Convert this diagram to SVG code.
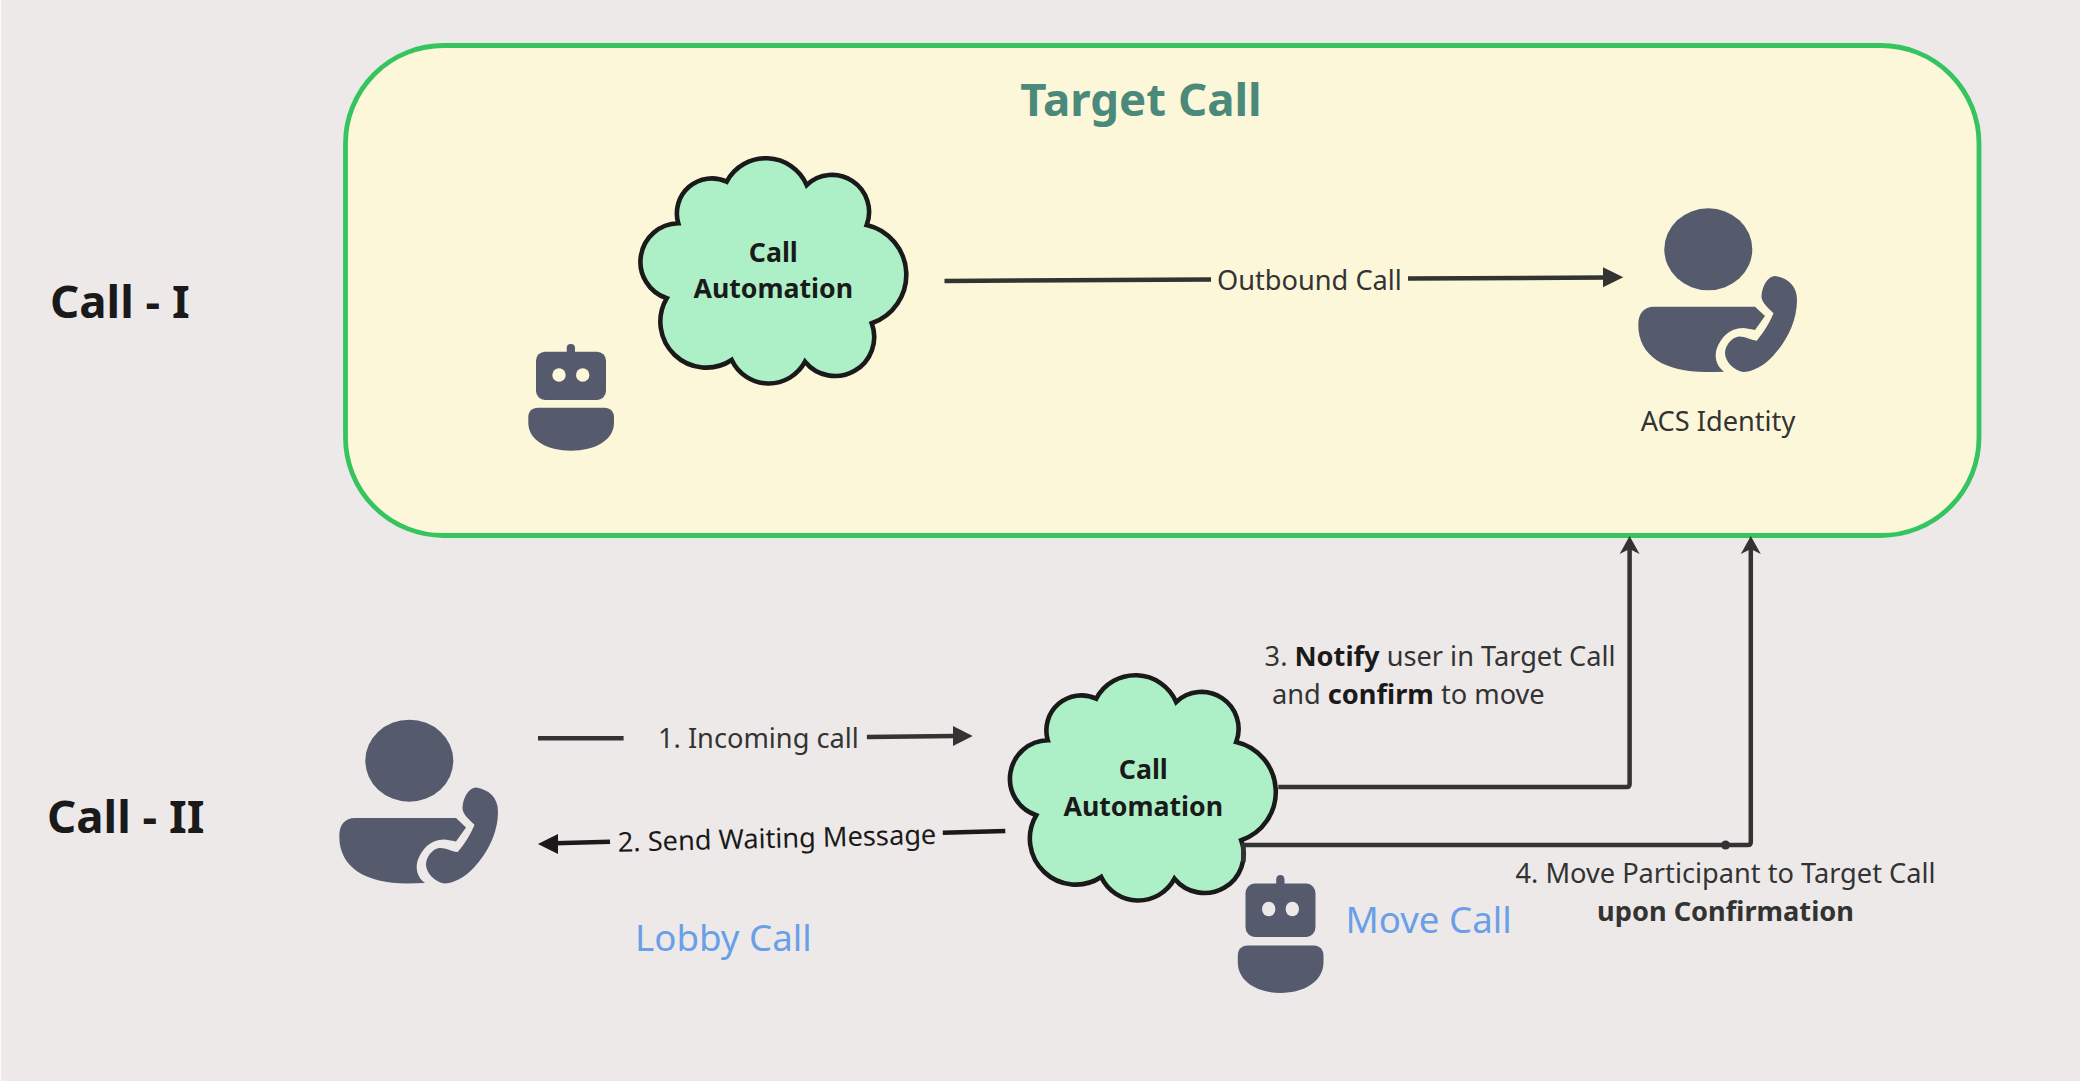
<svg xmlns="http://www.w3.org/2000/svg" width="2080" height="1081" viewBox="0 0 2080 1081">
<style>
text{font-family:"Noto Sans","Open Sans",sans-serif}
.r{font-size:27.2px;fill:#333}
.b{font-weight:700}
.d{fill:#1a1a1a}
.h{font-size:45.6px;font-weight:700;fill:#1a1a1a}
.c{font-size:26.7px;font-weight:700;fill:#1a1a1a;text-anchor:middle}
.l{font-size:36.7px;fill:#6a9fe8}
.ic{fill:#555b6c}
.cl{fill:#adf0c7;stroke:#1a1a1a;stroke-width:4.6;stroke-linejoin:miter}
.ln{fill:none;stroke:#333;stroke-width:4.5;stroke-linejoin:round}
.hd{fill:#333}
</style>
<defs>
<path id="cloud" d="M726.7 181.7A44.5 44.5 0 0 1 806.7 185A37 37 0 0 1 866.7 225A51.2 51.2 0 0 1 871.7 323.3A39 39 0 0 1 805 361.7A41 41 0 0 1 731.7 360A46 46 0 0 1 666.7 298.3A38.5 38.5 0 0 1 678.3 223.3A35 35 0 0 1 726.7 181.7Z"/>
<g id="person">
<ellipse class="ic" cx="1708.3" cy="249.3" rx="44" ry="41"/>
<path class="ic" d="M1654 306.7H1755L1765 316L1755 330C1750 329 1746 328 1743 328C1729 328 1721 338 1717 348C1714 356 1716 366 1724 371.7C1718 372 1712 372 1706 372C1665 372 1638.3 356 1638.3 325C1638.3 313 1644 306.7 1654 306.7Z"/>
<path class="ic" d="M1775 276C1788 278 1797 286 1797 300C1797 322 1786 342 1773 356C1764 366 1752 372 1743 372C1733 370 1725 361 1725 353C1725 346 1731 338 1738 336.7C1744 336 1750 340 1756.7 340.7C1764 332 1770 322 1773.5 313.3C1768 308 1761 302 1761.5 296C1762 286 1768 276 1775 276Z"/>
</g>
<g id="robotb">
<rect class="ic" x="566.7" y="344" width="8.3" height="12" rx="4"/>
<rect class="ic" x="536" y="351.7" width="70" height="48.3" rx="9"/>
<path class="ic" d="M538 407.7H604.5C610 407.7 614 411.5 614 417V423C614 440 595 450.7 571 450.7C547 450.7 528.3 440 528.3 423V417C528.3 411.5 532 407.7 538 407.7Z"/>
</g>
</defs>
<rect width="2080" height="1081" fill="#fbfbfb"/>
<rect x="1" y="0" width="2079" height="1081" fill="#ede9e8"/>

<g id="target-call">
<rect x="345.5" y="45.5" width="1633.5" height="490" rx="98" ry="98" fill="#fdf7da" stroke="#35c45f" stroke-width="4.8"/>
<text x="1141" y="115.5" class="h" text-anchor="middle" style="fill:#4b8a7a">Target Call</text>
</g>

<g id="label-call-1"><text x="50" y="318" class="h">Call - I</text></g>
<g id="label-call-2"><text x="47" y="833" class="h">Call - II</text></g>

<g id="cloud-1">
<use href="#cloud" class="cl"/>
<text x="773.3" y="261.7" class="c">Call</text>
<text x="773.3" y="297.7" class="c">Automation</text>
</g>
<g id="cloud-2">
<use href="#cloud" class="cl" transform="translate(369.5 517)"/>
<text x="1143.3" y="779" class="c">Call</text>
<text x="1143.3" y="815.7" class="c">Automation</text>
</g>

<g id="robot-1">
<use href="#robotb"/>
<circle cx="559" cy="375" r="6.7" fill="#fdf7da"/>
<circle cx="582.7" cy="375" r="6.7" fill="#fdf7da"/>
</g>
<g id="robot-2">
<use href="#robotb" transform="translate(1280.5 875) scale(1 1.106) translate(-571 -344)"/>
<ellipse cx="1268.7" cy="909" rx="6.7" ry="7.3" fill="#ede9e8"/>
<ellipse cx="1292.3" cy="909" rx="6.7" ry="7.3" fill="#ede9e8"/>
</g>

<g id="person-acs">
<use href="#person"/>
<text x="1718" y="430.7" class="r" text-anchor="middle">ACS Identity</text>
</g>
<g id="person-lobby">
<use href="#person" transform="translate(-1299 511.4)"/>
</g>

<g id="connectors">
<path class="ln" d="M944.5 281L1211 279.5M1408 278.6L1606 277.5"/>
<path class="hd" d="M1623.3 277.3L1603 287.3V267.3Z"/>
<path class="ln" d="M538 738.3H623.6M866.9 737L955 736"/>
<path class="hd" d="M972.7 736L953 746V726Z"/>
<path class="ln" style="stroke:#1a1a1a" d="M555 843.3L610 841.7M942.8 832.7L1005.3 831"/>
<path d="M537.9 844L558 834V854Z" fill="#1a1a1a"/>
<path class="ln" d="M1278.3 787H1626.6Q1629.6 787 1629.6 784V545"/>
<path class="hd" d="M1629.6 536L1639.6 554L1631.5 550H1627.7L1619.6 554Z"/>
<path class="ln" d="M1241 845H1747.8Q1750.8 845 1750.8 842V545M1243.3 845V861.7"/>
<path class="hd" d="M1750.8 536L1760.8 554L1752.7 550H1748.9L1740.8 554Z"/>
<circle class="hd" cx="1725.6" cy="845" r="4.5"/>
</g>

<g id="edge-labels">
<text x="1217" y="290" class="r">Outbound Call</text>
<text x="658" y="748.3" class="r">1. Incoming call</text>
<text x="618" y="851.7" class="r d" transform="rotate(-1.4 618 851.7)">2. Send Waiting Message</text>
<text x="1264.6" y="665.7" class="r">3. <tspan class="b d">Notify</tspan> user in Target Call</text>
<text x="1272" y="704" class="r">and <tspan class="b d">confirm</tspan> to move</text>
<text x="1725.5" y="882.5" class="r" text-anchor="middle">4. Move Participant to Target Call</text>
<text x="1725.5" y="921" class="r b" text-anchor="middle">upon Confirmation</text>
</g>
<g id="call-names">
<text x="635" y="950.7" class="l">Lobby Call</text>
<text x="1345.5" y="932.7" class="l">Move Call</text>
</g>
</svg>
